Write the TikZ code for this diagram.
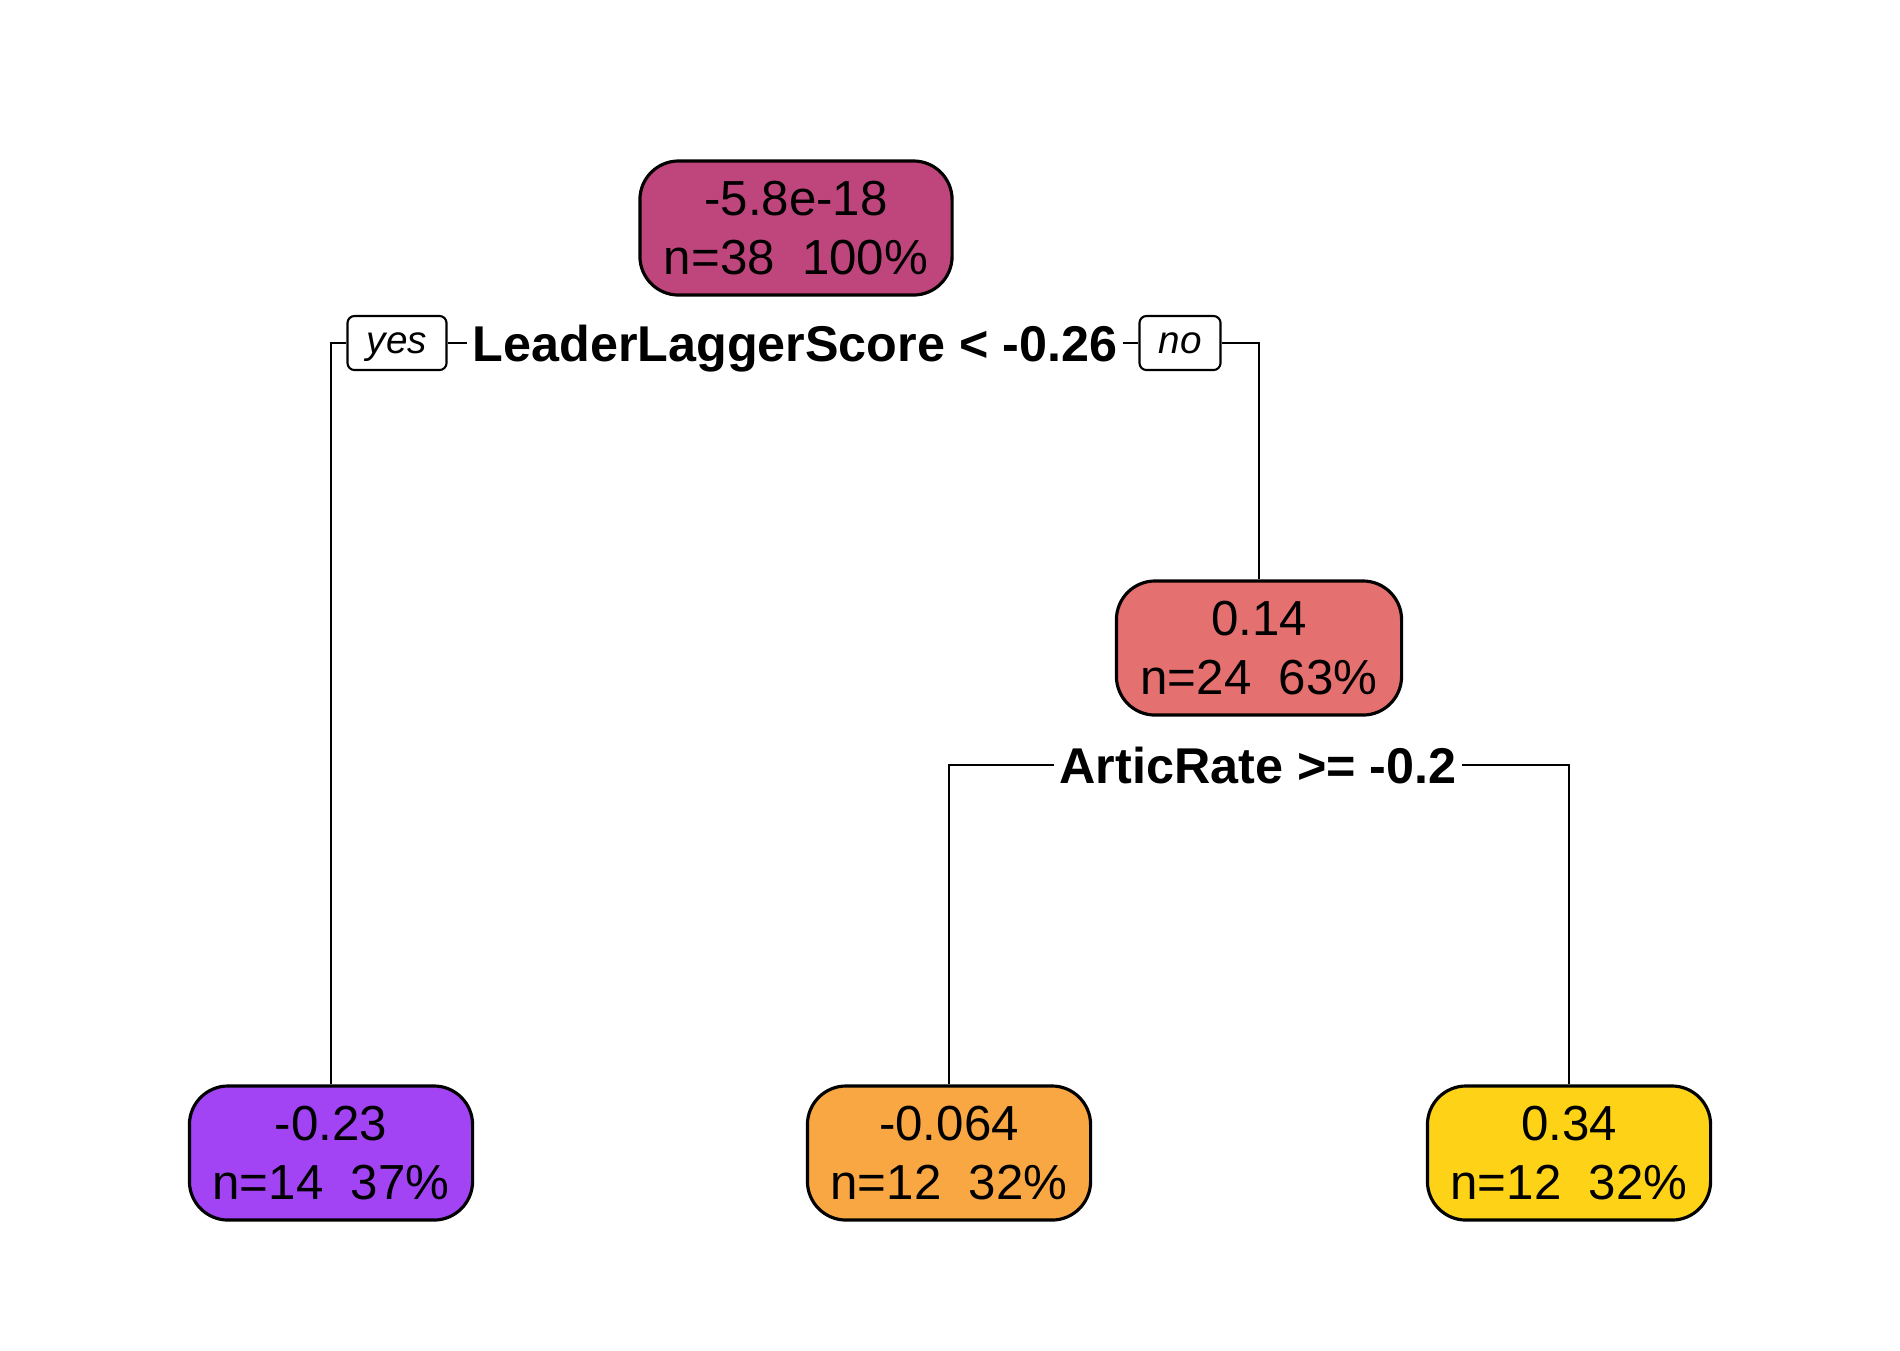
\documentclass[tikz,border=0pt]{standalone}
\usepackage{fontspec}
\setmainfont{Liberation Sans}
\usepackage{tikz}

\definecolor{rootcol}{RGB}{191,70,124}
\definecolor{midcol}{RGB}{229,112,112}
\definecolor{purplecol}{RGB}{162,67,244}
\definecolor{orangecol}{RGB}{248,167,66}
\definecolor{yellowcol}{RGB}{253,210,23}

\begin{document}
\begin{tikzpicture}[x=0.01cm,y=-0.01cm]
        \tikzstyle{leaf}=[draw=black,line width=0.9pt,rounded corners=11pt,inner sep=0pt,minimum height=1.34cm,align=center,font=\fontsize{14}{17}\selectfont]
        \tikzstyle{split}=[inner sep=1.5pt,text depth=0pt,font=\fontsize{14.3}{17}\selectfont\bfseries]
        \tikzstyle{tag}=[draw=black,line width=0.6pt,rounded corners=2pt,inner sep=0pt,minimum height=0.54cm,text depth=0pt,font=\fontsize{11}{13}\selectfont\itshape]
        \tikzstyle{edge}=[line width=0.6pt]
        \useasboundingbox (0,0) rectangle (1900,1350);
        \node[leaf,fill=rootcol,minimum width=3.12cm] (n_1) at (796,228) {-5.8e-18\\n=38\ \ 100\%};
        \node[leaf,fill=midcol,minimum width=2.85cm] (n_2) at (1259,648) {0.14\\n=24\ \ 63\%};
        \node[leaf,fill=purplecol,minimum width=2.83cm] (n_3) at (331,1153) {-0.23\\n=14\ \ 37\%};
        \node[leaf,fill=orangecol,minimum width=2.83cm] (n_4) at (949,1153) {-0.064\\n=12\ \ 32\%};
        \node[leaf,fill=yellowcol,minimum width=2.83cm] (n_5) at (1569,1153) {0.34\\n=12\ \ 32\%};
        \node[split] (s_1) at (795,343) {LeaderLaggerScore < -0.26};
        \node[split] (s_2) at (1258,765) {ArticRate >= -0.2};
        \node[tag,minimum width=0.99cm] (yes) at (397,343) {yes};
        \node[tag,minimum width=0.81cm] (no) at (1180,343) {no};
        \draw[edge] (s_1.west) -- (yes.east);
        \draw[edge] (yes.west) -- (yes.west -| n_3) -- (n_3.north);
        \draw[edge] (s_1.east) -- (no.west);
        \draw[edge] (no.east) -- (no.east -| n_2) -- (n_2.north);
        \draw[edge] (s_2.west) -- (s_2.west -| n_4) -- (n_4.north);
        \draw[edge] (s_2.east) -- (s_2.east -| n_5) -- (n_5.north);
      \end{tikzpicture}
\end{document}
